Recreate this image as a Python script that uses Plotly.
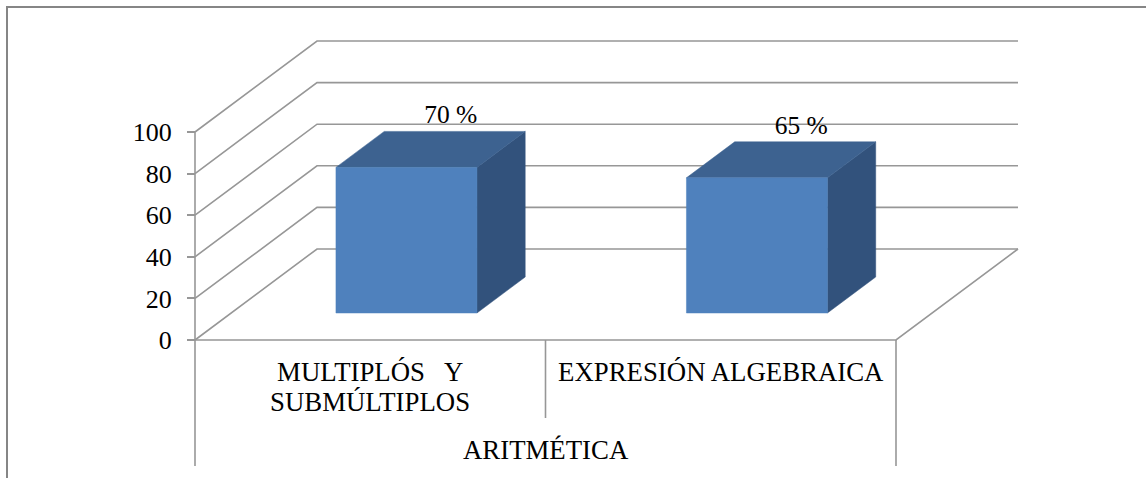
import plotly.graph_objects as go

# ---- data ----
category_first_lines = ["MULTIPLÓS \u00a0 Y", "EXPRESIÓN ALGEBRAICA"]
category_second_lines = ["SUBMÚLTIPLOS", ""]
values = [70, 65]
value_labels = ["70 %", "65 %"]
group_label = "ARITMÉTICA"
y_ticks = [0, 20, 40, 60, 80, 100]

# ---- geometry of the oblique projection (axis units) ----
W, H = 1146, 478
X0_PX, Y0_PX = 195.0, 340.0
PX_PER_CAT = 350.5
PX_PER_VAL = 2.08
DEPTH_X = 122 / PX_PER_CAT
DEPTH_Y = 91 / PX_PER_VAL
BAR_W = 141 / PX_PER_CAT
BAR_D0, BAR_D1 = 27 / 91, 63 / 91

GRID = "#979797"
FRONT, TOP, SIDE = "#4F81BD", "#3D6290", "#32527C"
FONT = "Liberation Serif"
FS_CAT = 26.8
FS_TICK = 26
FS_VALUE = 25.5


def proj(x, y, d):
    return x + d * DEPTH_X, y + d * DEPTH_Y


def line(pts, color=GRID, width=1.6):
    xs, ys = zip(*pts)
    return go.Scatter(x=xs, y=ys, mode="lines", line=dict(color=color, width=width),
                      hoverinfo="skip", showlegend=False)


def poly(pts, color):
    xs, ys = zip(*(pts + pts[:1]))
    return go.Scatter(x=xs, y=ys, mode="lines", fill="toself", fillcolor=color,
                      line=dict(color=color, width=0.5), hoverinfo="skip", showlegend=False)


n = len(values)
fig = go.Figure()

# walls and floor
for t in y_ticks:
    fig.add_trace(line([proj(0, t, 0), proj(0, t, 1), proj(n, t, 1)]))
fig.add_trace(line([proj(n, 0, 1), proj(n, 0, 0), proj(0, 0, 0)]))
fig.add_trace(line([(0, 100), (0, 0)]))

# lines below the axis separating the category cells
below_low = -(466 - Y0_PX) / PX_PER_VAL
below_mid = -(418 - Y0_PX) / PX_PER_VAL
for i in range(n + 1):
    fig.add_trace(line([(i, 0), (i, below_low if i in (0, n) else below_mid)]))

# bars
for i, v in enumerate(values):
    c = i + 0.5
    l, r = c - BAR_W / 2, c + BAR_W / 2
    fig.add_trace(poly([proj(r, 0, BAR_D0), proj(r, 0, BAR_D1), proj(r, v, BAR_D1), proj(r, v, BAR_D0)], SIDE))
    fig.add_trace(poly([proj(l, v, BAR_D0), proj(r, v, BAR_D0), proj(r, v, BAR_D1), proj(l, v, BAR_D1)], TOP))
    fig.add_trace(poly([proj(l, 0, BAR_D0), proj(r, 0, BAR_D0), proj(r, v, BAR_D0), proj(l, v, BAR_D0)], FRONT))

# value labels, above the back edge of the bar top
lx, ly = [], []
for i, v in enumerate(values):
    x, y = proj(i + 0.5, v, BAR_D1)
    lx.append(x - 4 / PX_PER_CAT)
    ly.append(y + 14.5 / PX_PER_VAL)
fig.add_trace(go.Scatter(x=lx, y=ly, mode="text", text=value_labels, textposition="middle center",
                         textfont=dict(family=FONT, size=FS_VALUE, color="#000000"),
                         hoverinfo="skip", showlegend=False))

# second line of the category labels (tighter leading than a tick label's own line break)
for i, second in enumerate(category_second_lines):
    if second:
        fig.add_annotation(x=i + 0.5, y=-(402 - Y0_PX) / PX_PER_VAL, text=second, showarrow=False,
                           xanchor="center", yanchor="middle",
                           font=dict(family=FONT, size=FS_CAT, color="#000000"))

fig.add_annotation(x=n / 2, y=-(450 - Y0_PX) / PX_PER_VAL, text=group_label, showarrow=False,
                   xanchor="center", yanchor="middle",
                   font=dict(family=FONT, size=FS_CAT, color="#000000"))

# chart frame: only top and left edges are visible in the crop
fig.add_shape(type="line", xref="paper", yref="paper", x0=7 / W, x1=7 / W, y0=0, y1=1 - 6 / H,
              line=dict(color="#868686", width=2))
fig.add_shape(type="line", xref="paper", yref="paper", x0=6 / W, x1=1, y0=1 - 7 / H, y1=1 - 7 / H,
              line=dict(color="#868686", width=2))

fig.update_layout(
    width=W, height=H, margin=dict(l=0, r=0, t=0, b=0),
    paper_bgcolor="#FFFFFF", plot_bgcolor="#FFFFFF", showlegend=False,
    xaxis=dict(range=[-X0_PX / PX_PER_CAT, (W - X0_PX) / PX_PER_CAT], showgrid=False, zeroline=False,
               showline=False, tickmode="array", tickvals=[i + 0.5 for i in range(n)],
               ticktext=category_first_lines,
               ticks="", ticklabelstandoff=13, anchor="free", position=1 - Y0_PX / H,
               tickangle=0, tickfont=dict(family=FONT, size=FS_CAT, color="#000000"), fixedrange=True),
    yaxis=dict(range=[-(H - Y0_PX) / PX_PER_VAL, Y0_PX / PX_PER_VAL], showgrid=False, zeroline=False,
               showline=False, tickmode="array", tickvals=y_ticks, ticks="outside", ticklen=8, tickwidth=1.6,
               tickcolor=GRID, ticklabelstandoff=10, anchor="free", position=X0_PX / W,
               tickfont=dict(family=FONT, size=FS_TICK, color="#000000"), fixedrange=True),
)

fig.write_html("out.html", config={"displayModeBar": False},
               post_script="document.body.style.margin='0';document.body.style.overflow='hidden';")
